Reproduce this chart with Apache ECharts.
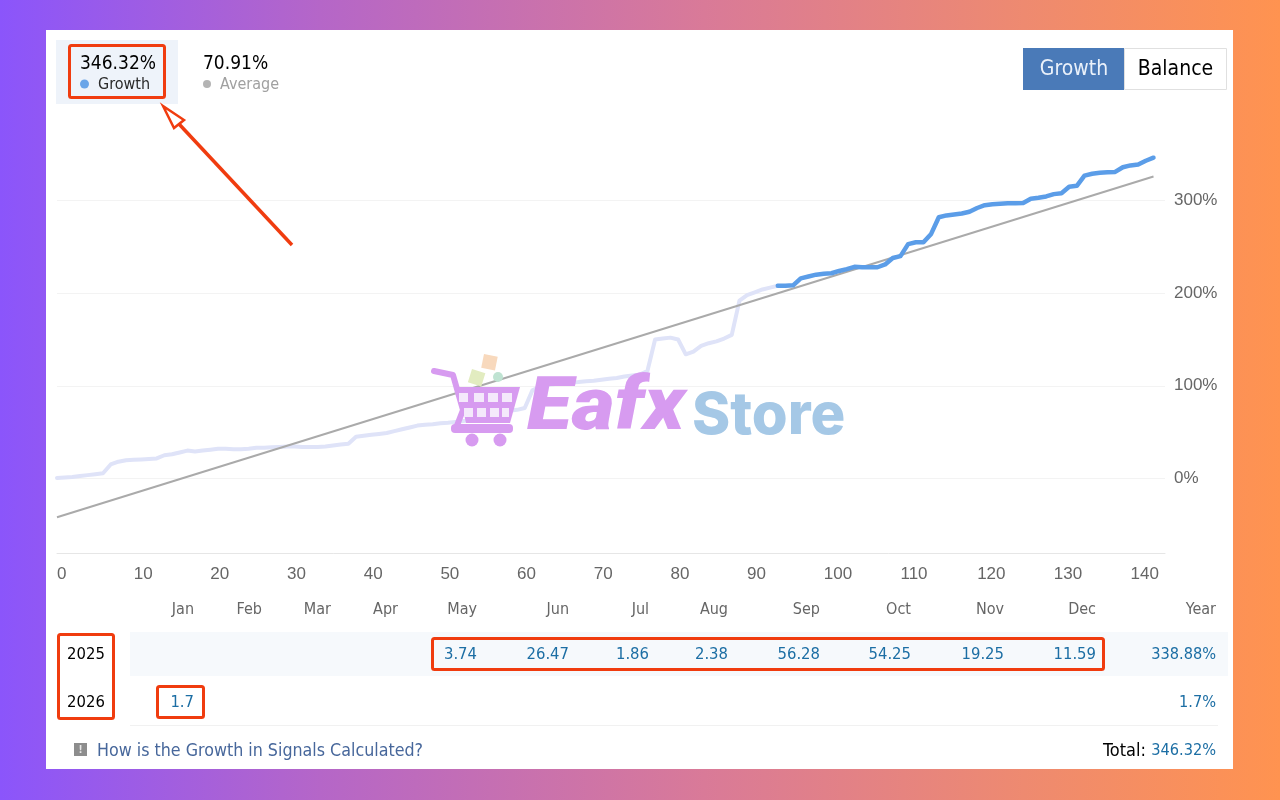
<!DOCTYPE html>
<html>
<head>
<meta charset="utf-8">
<title>Growth</title>
<script src="https://cdn.jsdelivr.net/npm/echarts@6/dist/echarts.min.js"></script>
<style>
  html, body { margin: 0; padding: 0; width: 1280px; height: 800px; overflow: hidden; }
  body { background: linear-gradient(90deg, #8b55fb 0%, #b566c8 25%, #d97a98 55%, #ee8a70 80%, #ff9350 100%); }
  #chart { width: 1280px; height: 800px; }
</style>
</head>
<body>
<div id="chart"></div>
<script>
// growth curve, one value per trade
const growthValues = [
  0.5, 1, 1.5, 2.5, 3.5, 4.5, 5.5, 15, 18, 19.5,
  20, 20.5, 21, 21.5, 25, 26, 28, 30, 29, 30,
  31, 32, 32, 31.5, 31.5, 32, 33, 33, 33.5, 34,
  34.5, 34.5, 34, 34, 34, 34.5, 35.5, 36.5, 37.5, 45,
  46, 47, 48, 49, 51, 53, 55, 57, 58, 58.5,
  59.5, 60, 61, 62, 63, 65, 68, 71, 72, 73,
  74, 76, 95, 99, 101, 102, 103, 103.5, 104, 105,
  105.5, 106.5, 107.5, 108.5, 110, 111, 112, 116, 150, 151,
  152, 150, 134, 137, 143, 146, 148, 151, 155, 192,
  198, 201, 204, 206, 208, 208, 208.5, 216, 218, 220,
  221, 221.5, 224, 226, 228.5, 228, 228, 228, 231, 238,
  240, 253, 255, 255, 264, 282, 284, 285, 286, 288,
  292, 295, 296, 296.5, 297, 297, 297.5, 302, 303, 304.5,
  307, 308, 315, 316, 327, 329, 330, 330.5, 331, 336,
  338, 339, 343, 346.32
];
const fadedUntil = 94; // trades before this one are drawn pale
const trendTrades = [0, 143];
const trendValues = [-42, 326];
const xTicks = [0, 10, 20, 30, 40, 50, 60, 70, 80, 90, 100, 110, 120, 130, 140];
const yTicks = [0, 100, 200, 300];

const months = ['Jan', 'Feb', 'Mar', 'Apr', 'May', 'Jun', 'Jul', 'Aug', 'Sep', 'Oct', 'Nov', 'Dec'];
const years = ['2025', '2026'];
const values2025 = ['', '', '', '', '3.74', '26.47', '1.86', '2.38', '56.28', '54.25', '19.25', '11.59'];
const values2026 = ['1.7', '', '', '', '', '', '', '', '', '', '', ''];
const yearTotals = ['338.88%', '1.7%'];

const uiFont = '"DejaVu Sans Condensed", "DejaVu Sans", sans-serif';
const axisFont = '"Liberation Sans", Arial, sans-serif';
const red = '#f03c0f';
const valueBlue = '#1c6ea4';
const markPurple = '#d79bf0';
const holeColor = '#f4e9fb';

// right edge of each month column
const monthRight = [194, 262, 331, 398, 477, 569, 649, 728, 820, 911, 1004, 1096];

function label(x, y, text, size, color, align, extra) {
  return {
    type: 'text', x: x, y: y, z: 5,
    style: Object.assign({
      text: text, fontFamily: uiFont, fontSize: size, fill: color,
      align: align || 'left', verticalAlign: 'middle'
    }, extra || {})
  };
}
function box(x, y, w, h, fill, z) {
  return { type: 'rect', z: z, shape: { x: x, y: y, width: w, height: h }, style: { fill: fill } };
}
function redBox(x, y, w, h) {
  return {
    type: 'rect', z: 20, shape: { x: x, y: y, width: w, height: h, r: 2 },
    style: { fill: 'none', stroke: red, lineWidth: 3 }
  };
}

const graphics = [
  // card and header
  box(46, 30, 1187, 739, '#ffffff', -10),
  box(56, 40, 122, 64, '#eef3fa', -9),
  box(130, 632, 1098, 44, '#f6f9fc', -9),
  box(130, 725, 1088, 1, '#f1f1f1', -9),

  label(80, 64, '346.32%', 19, '#000000'),
  { type: 'circle', z: 5, shape: { cx: 84.5, cy: 84, r: 4.5 }, style: { fill: '#6aa5e8' } },
  label(98, 85, 'Growth', 16, '#2a2a2a'),
  label(203, 64, '70.91%', 19, '#000000'),
  { type: 'circle', z: 5, shape: { cx: 207, cy: 84, r: 4 }, style: { fill: '#b4b4b4' } },
  label(220, 85, 'Average', 16, '#a0a0a0'),

  // buttons
  box(1023, 48, 101, 42, '#4a7ab8', 1),
  {
    type: 'rect', z: 1, shape: { x: 1124.5, y: 48.5, width: 102, height: 41 },
    style: { fill: '#ffffff', stroke: '#e0e0e0', lineWidth: 1 }
  },
  label(1074, 70, 'Growth', 21, '#eaf1fa', 'center'),
  label(1175.5, 70, 'Balance', 21, '#000000', 'center'),

  // watermark
  {
    type: 'group', z: 10, opacity: 0.92,
    children: [
      { type: 'polyline', z: 10, shape: { points: [[434, 371], [453, 375], [463, 410], [456, 428]] },
        style: { fill: 'none', stroke: markPurple, lineWidth: 6, lineCap: 'round', lineJoin: 'round' } },
      { type: 'polygon', z: 10, shape: { points: [[458, 387], [520, 387], [510, 423], [466, 423]] },
        style: { fill: markPurple } },
      { type: 'rect', z: 10, shape: { x: 451, y: 424, width: 62, height: 9, r: 4 }, style: { fill: markPurple } },
      box(459, 393, 9, 9, holeColor, 10), box(474, 393, 10, 9, holeColor, 10), box(488, 393, 10, 9, holeColor, 10), box(502, 393, 10, 9, holeColor, 10),
      box(464, 408, 9, 9, holeColor, 10), box(477, 408, 9, 9, holeColor, 10), box(490, 408, 9, 9, holeColor, 10), box(502, 408, 7, 9, holeColor, 10),
      { type: 'circle', z: 10, shape: { cx: 472, cy: 440, r: 6.5 }, style: { fill: markPurple } },
      { type: 'circle', z: 10, shape: { cx: 500, cy: 440, r: 6.5 }, style: { fill: markPurple } },
      { type: 'rect', z: 10, x: 484, y: 354, rotation: -0.2, shape: { width: 14, height: 14 }, style: { fill: '#f8d9bd' } },
      { type: 'rect', z: 10, x: 472, y: 369, rotation: -0.3, shape: { width: 14, height: 14 }, style: { fill: '#e2ecc0' } },
      { type: 'circle', z: 10, shape: { cx: 498, cy: 377, r: 5 }, style: { fill: '#bfe3d2' } },
      Object.assign(label(527, 410, 'Eafx', 74, markPurple, 'left', { fontFamily: 'Roboto, sans-serif', fontWeight: 900, fontStyle: 'italic' }), { scaleX: 1.12 }),
      label(692, 417, 'Store', 58, '#a5c8e6', 'left', { fontFamily: 'Inter, sans-serif', fontWeight: 800 })
    ]
  },

  // red annotations
  redBox(69.5, 45.5, 95, 52),
  redBox(58.5, 634.5, 55, 84),
  redBox(432.5, 638.5, 671, 31),
  redBox(157.5, 686.5, 46, 31),
  { type: 'polyline', z: 20, shape: { points: [[292, 245], [179, 124]] }, style: { fill: 'none', stroke: red, lineWidth: 3.5 } },
  { type: 'polygon', z: 20, shape: { points: [[163, 106], [184, 120], [174, 128]] }, style: { fill: '#ffffff', stroke: red, lineWidth: 2.5 } },

  // footer
  box(74, 743, 13, 13, '#8d8d8d', 1),
  label(80.5, 750, '!', 10, '#e8e8e8', 'center', { fontWeight: 'bold' }),
  label(97, 751, 'How is the Growth in Signals Calculated?', 17.7, '#47679b'),
  label(1146, 751, 'Total:', 18, '#000000', 'right'),
  label(1216, 751, '346.32%', 16.2, valueBlue, 'right')
];

// monthly table
months.forEach(function (month, i) {
  graphics.push(label(monthRight[i], 610, month, 16, '#666666', 'right'));
  if (values2025[i]) graphics.push(label(monthRight[i], 655, values2025[i], 16.5, valueBlue, 'right'));
  if (values2026[i]) graphics.push(label(monthRight[i], 703, values2026[i], 16.5, valueBlue, 'right'));
});
graphics.push(label(1216, 610, 'Year', 16, '#666666', 'right'));
years.forEach(function (year, i) {
  const y = i === 0 ? 655 : 703;
  graphics.push(label(86, y, year, 16.5, '#000000', 'center'));
  graphics.push(label(1216, y, yearTotals[i], 16.2, valueBlue, 'right'));
});

const growthPoints = growthValues.map(function (v, i) { return [i, v]; });

const chart = echarts.init(document.getElementById('chart'));
chart.setOption({
  animation: false,
  grid: { left: 57, right: 115, top: 108, bottom: 247 },
  xAxis: {
    type: 'value',
    min: 0,
    max: 144.5,
    axisLine: { onZero: false, lineStyle: { color: '#e6e6e6', width: 1 } },
    axisTick: { show: false },
    splitLine: { show: false },
    axisLabel: {
      customValues: xTicks,
      align: 'left',
      margin: 13,
      color: '#666666',
      fontSize: 17,
      fontFamily: axisFont
    }
  },
  yAxis: {
    type: 'value',
    position: 'right',
    min: -80.6,
    max: 400,
    axisLine: { show: false },
    axisTick: { show: false, customValues: yTicks },
    splitLine: { show: true, lineStyle: { color: '#f3f3f3', width: 1 } },
    axisLabel: {
      customValues: yTicks,
      formatter: '{value}%',
      margin: 9,
      color: '#666666',
      fontSize: 17,
      fontFamily: axisFont
    }
  },
  series: [
    {
      name: 'Growth (early)',
      type: 'line',
      z: 2,
      showSymbol: false,
      data: growthPoints.slice(0, fadedUntil + 1),
      lineStyle: { color: '#dfe3f8', width: 4, cap: 'round', join: 'round' }
    },
    {
      name: 'Average',
      type: 'line',
      z: 3,
      showSymbol: false,
      data: trendTrades.map(function (t, i) { return [t, trendValues[i]]; }),
      lineStyle: { color: '#aaaaaa', width: 2 }
    },
    {
      name: 'Growth',
      type: 'line',
      z: 4,
      showSymbol: false,
      data: growthPoints.slice(fadedUntil),
      lineStyle: { color: '#5b9de8', width: 4.5, cap: 'round', join: 'round' }
    }
  ],
  graphic: { elements: graphics }
});
</script>
</body>
</html>
